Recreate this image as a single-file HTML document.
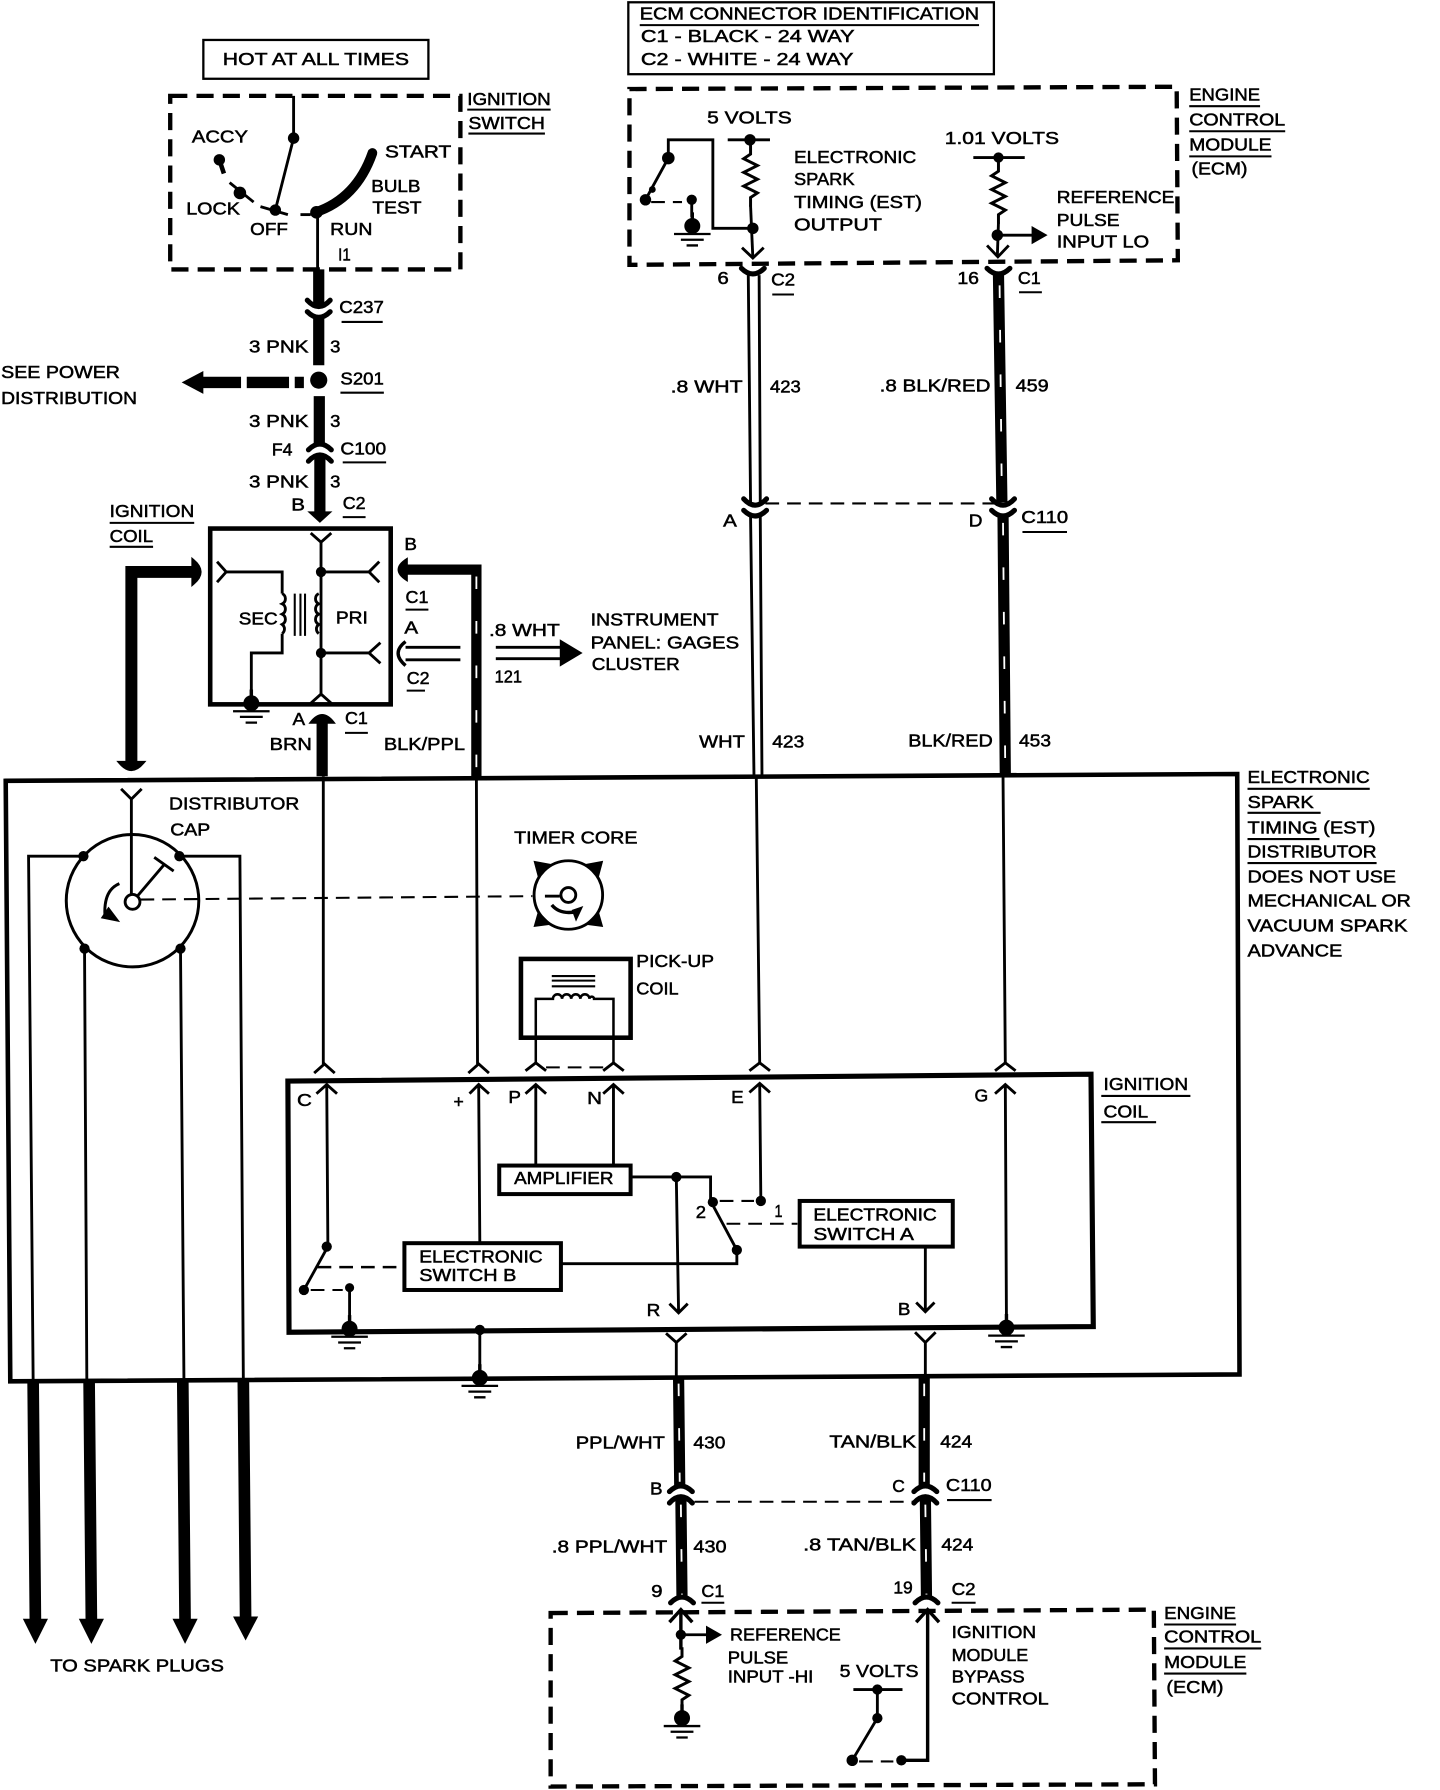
<!DOCTYPE html>
<html><head><meta charset="utf-8"><title>Electronic Spark Timing Wiring Diagram</title>
<style>
html,body{margin:0;padding:0;background:#fff}
svg{display:block;position:absolute;left:0;top:0}
text{font-family:"Liberation Sans",sans-serif;font-size:15.5px;fill:#000;stroke:#000;stroke-width:.45px}
.l{fill:none;stroke:#000;stroke-width:2.5}
.t{fill:none;stroke:#000;stroke-width:1.8}
.b{fill:none;stroke:#000;stroke-width:4}
.d{fill:none;stroke:#000;stroke-width:3.8;stroke-dasharray:15 8}
.h{fill:none;stroke:#000;stroke-width:1.8;stroke-dasharray:12 7}
.w{fill:none;stroke:#000;stroke-width:9.8}
.s{fill:none;stroke:#fff;stroke-width:1.6;stroke-dasharray:11 28}
.c{fill:none;stroke:#000;stroke-width:2.5}
</style></head><body>
<svg width="1440" height="1790" viewBox="0 0 1260.5 1568" preserveAspectRatio="none" xmlns="http://www.w3.org/2000/svg">
<defs>
<g id="g"><circle cx="0" cy="0" r="7"/><path d="M0,-12V0" stroke="#000" stroke-width="3"/><path d="M-16,7H16M-10,12H10M-5,17H5" stroke="#000" stroke-width="2" fill="none"/></g>
<path id="r" d="M0,0 L0,8 L-6,12 L6,18 L-6,24 L6,30 L-6,36 L6,42 L0,46 L0,54" fill="none" stroke="#000" stroke-width="2.6"/>
<path id="capd" d="M-10,-6 Q0,5 10,-6 M-10,4 Q0,14 10,4" fill="none" stroke="#000" stroke-width="4.5" stroke-linecap="round"/>
<path id="capu" d="M-10,-4 Q0,-14 10,-4 M-10,6 Q0,-5 10,6" fill="none" stroke="#000" stroke-width="4.5" stroke-linecap="round"/>
<path id="y" d="M-10,-4 Q0,6 10,-4" fill="none" stroke="#000" stroke-width="4.5" stroke-linecap="round"/>
<path id="f" d="M-10,4 Q0,-6 10,4" fill="none" stroke="#000" stroke-width="4.5" stroke-linecap="round"/>
</defs>

<!-- Top labels -->
<rect x="178" y="35" width="197" height="34" fill="none" stroke="#000" stroke-width="2"/>
<text x="195" y="57" textLength="163" lengthAdjust="spacingAndGlyphs">HOT AT ALL TIMES</text>
<rect x="550" y="2" width="320" height="63" fill="none" stroke="#000" stroke-width="2"/>
<path d="M560,22H857" class="t"/>
<text x="560" y="17" textLength="297" lengthAdjust="spacingAndGlyphs">ECM CONNECTOR IDENTIFICATION</text>
<text x="561" y="37" textLength="187" lengthAdjust="spacingAndGlyphs">C1 - BLACK - 24 WAY</text>
<text x="561" y="57" textLength="186" lengthAdjust="spacingAndGlyphs">C2 - WHITE - 24 WAY</text>

<!-- Ignition switch -->
<rect x="149" y="84" width="254" height="152" class="d"/>
<text x="409" y="92" textLength="73" lengthAdjust="spacingAndGlyphs">IGNITION</text><path d="M409,96H482M410,117H477" class="t"/>
<text x="410" y="113" textLength="67" lengthAdjust="spacingAndGlyphs">SWITCH</text>
<path d="M257,84V121L241,184" class="l"/><circle cx="257" cy="121" r="5"/><circle cx="241" cy="184" r="5"/>
<path d="M228,181L252,188" class="l"/>
<circle cx="192" cy="140" r="5"/><path d="M192,140L196,152" class="b"/><path d="M201,160L222,177" class="l"/><circle cx="210" cy="169" r="5.5"/>
<text x="168" y="125" textLength="49" lengthAdjust="spacingAndGlyphs">ACCY</text>
<text x="163" y="188" textLength="47" lengthAdjust="spacingAndGlyphs">LOCK</text>
<text x="219" y="206" textLength="33" lengthAdjust="spacingAndGlyphs">OFF</text>
<text x="289" y="206" textLength="37" lengthAdjust="spacingAndGlyphs">RUN</text>
<text x="337" y="138" textLength="58" lengthAdjust="spacingAndGlyphs">START</text>
<text x="325" y="168" textLength="43" lengthAdjust="spacingAndGlyphs">BULB</text>
<text x="326" y="187" textLength="43" lengthAdjust="spacingAndGlyphs">TEST</text>
<text x="296" y="228" textLength="11" lengthAdjust="spacingAndGlyphs">I1</text>
<path d="M276,186Q312,174 326,134" fill="none" stroke="#000" stroke-width="8.5" stroke-linecap="round"/>
<circle cx="277" cy="186" r="5.5"/>
<path d="M263,188H272" class="l"/><path d="M278,186V236" class="l"/>

<!-- Main power wire -->
<path d="M279,236V267" class="w"/>
<use href="#capd" x="279" y="269"/>
<path d="M279,277V320" class="w"/>
<circle cx="279" cy="333" r="7.5"/>
<path d="M279.5,347V390" class="w"/>
<use href="#capu" x="280" y="398"/>
<path d="M280,398V452" class="w"/>
<path d="M269,448L280,458L291,448Z"/>
<text x="297" y="274" textLength="39" lengthAdjust="spacingAndGlyphs">C237</text><path d="M299,282H335M298,344H336M300,405H338M300,453H320" class="t"/>
<text x="218" y="309" textLength="52" lengthAdjust="spacingAndGlyphs">3 PNK</text><text x="289" y="309" textLength="9" lengthAdjust="spacingAndGlyphs">3</text>
<text x="298" y="337" textLength="38" lengthAdjust="spacingAndGlyphs">S201</text>
<text x="218" y="374" textLength="52" lengthAdjust="spacingAndGlyphs">3 PNK</text><text x="289" y="374" textLength="9" lengthAdjust="spacingAndGlyphs">3</text>
<text x="238" y="399" textLength="18" lengthAdjust="spacingAndGlyphs">F4</text>
<text x="298" y="398" textLength="40" lengthAdjust="spacingAndGlyphs">C100</text>
<text x="218" y="427" textLength="52" lengthAdjust="spacingAndGlyphs">3 PNK</text><text x="289" y="427" textLength="9" lengthAdjust="spacingAndGlyphs">3</text>
<text x="255" y="447" textLength="12" lengthAdjust="spacingAndGlyphs">B</text>
<text x="300" y="446" textLength="20" lengthAdjust="spacingAndGlyphs">C2</text>

<text x="1" y="331" textLength="104" lengthAdjust="spacingAndGlyphs">SEE POWER</text>
<text x="1" y="354" textLength="119" lengthAdjust="spacingAndGlyphs">DISTRIBUTION</text>
<path d="M159,335L178,325V345Z"/><path d="M176,335H211M216,335H253M258,335H266" class="w" style="stroke-width:10"/>

<!-- Ignition coil -->
<text x="96" y="453" textLength="74" lengthAdjust="spacingAndGlyphs">IGNITION</text><path d="M96,458H170M96,479H134" class="t"/>
<text x="96" y="475" textLength="38" lengthAdjust="spacingAndGlyphs">COIL</text>
<rect x="184" y="463" width="158" height="154" class="b"/>
<path d="M272,467L281,475L290,467M281,475V610M271,617L281,608L291,617" class="l"/>
<circle cx="281" cy="501" r="4.5"/><circle cx="281" cy="572" r="4.5"/>
<path d="M281,501H325M332,492L323,501L332,510M281,572H325M333,563L323,572L333,581" class="l"/>
<path d="M190,492L198,501L190,510M198,501H247V520M247,555V572H220V615" class="l"/>
<path d="M247,520a5,5 0 0 1 0,9a5,5 0 0 1 0,9a5,5 0 0 1 0,9a5,5 0 0 1 0,8" class="l"/>
<path d="M279,520a5,5 0 0 0 0,9a5,5 0 0 0 0,9a5,5 0 0 0 0,9a5,5 0 0 0 0,8" class="l"/>
<path d="M258,520V557M263,520V557M267,520V557" class="t"/>
<use href="#g" x="220" y="616"/>
<text x="209" y="547" textLength="34" lengthAdjust="spacingAndGlyphs">SEC</text>
<text x="294" y="546" textLength="28" lengthAdjust="spacingAndGlyphs">PRI</text>

<path d="M115,672V501H170" fill="none" stroke="#000" stroke-width="10.5"/>
<path d="M169,491Q181,501 169,511ZM105,668Q115,680 125,668Z" stroke="#000" stroke-width="3"/>
<path d="M417,680V499H355" fill="none" stroke="#000" stroke-width="9"/>
<path d="M356,490Q342,499 356,508Z" stroke="#000" stroke-width="2"/>
<path d="M417,505V680" class="s"/>
<text x="354" y="482" textLength="11" lengthAdjust="spacingAndGlyphs">B</text>
<text x="355" y="528" textLength="20" lengthAdjust="spacingAndGlyphs">C1</text><path d="M355,534H375M356,605H372M302,642H322" class="t"/>
<text x="354" y="555" textLength="12" lengthAdjust="spacingAndGlyphs">A</text>
<text x="356" y="599" textLength="20" lengthAdjust="spacingAndGlyphs">C2</text>
<path d="M403,567H355M403,578H355" class="l"/><path d="M355,562Q342,572 355,583" fill="none" stroke="#000" stroke-width="3"/>
<text x="428" y="557" textLength="62" lengthAdjust="spacingAndGlyphs">.8 WHT</text>
<text x="433" y="598" textLength="24" lengthAdjust="spacingAndGlyphs">121</text>
<path d="M434,567H492M434,577H492" class="l"/><path d="M490,560L510,572L490,584Z"/>
<text x="517" y="548" textLength="112" lengthAdjust="spacingAndGlyphs">INSTRUMENT</text>
<text x="517" y="568" textLength="130" lengthAdjust="spacingAndGlyphs">PANEL: GAGES</text>
<text x="518" y="587" textLength="77" lengthAdjust="spacingAndGlyphs">CLUSTER</text>

<path d="M282,632V680" class="w"/><path d="M272,633Q282,620 292,633Z" stroke="#000" stroke-width="2"/>
<text x="256" y="635" textLength="11" lengthAdjust="spacingAndGlyphs">A</text>
<text x="302" y="634" textLength="20" lengthAdjust="spacingAndGlyphs">C1</text>
<text x="236" y="657" textLength="37" lengthAdjust="spacingAndGlyphs">BRN</text>
<text x="336" y="657" textLength="71" lengthAdjust="spacingAndGlyphs">BLK/PPL</text>

<!-- ECM top -->
<path d="M551,78L1030,76L1031,228L551,232Z" class="d"/>
<text x="1041" y="88" textLength="62" lengthAdjust="spacingAndGlyphs">ENGINE</text>
<text x="1041" y="110" textLength="84" lengthAdjust="spacingAndGlyphs">CONTROL</text>
<text x="1041" y="132" textLength="72" lengthAdjust="spacingAndGlyphs">MODULE</text>
<text x="1043" y="153" textLength="49" lengthAdjust="spacingAndGlyphs">(ECM)</text>
<path d="M1041,93H1103M1041,115H1125M1041,137H1113" class="t"/>
<text x="619" y="108" textLength="74" lengthAdjust="spacingAndGlyphs">5 VOLTS</text>
<path d="M637,122.5H674" class="l"/><circle cx="656.5" cy="122.5" r="5"/>
<use href="#r" x="657" y="127"/><path d="M657,180L659,226" class="l"/><circle cx="659" cy="200" r="5"/>
<path d="M659,200H624V122.5H585V138.5L565,175" class="l"/><circle cx="585" cy="138.5" r="5.5"/><circle cx="565" cy="175" r="5"/><circle cx="571" cy="166" r="3"/>
<path d="M570,177H597" class="h"/><circle cx="605.5" cy="175" r="4.5"/><use href="#g" x="606" y="198"/><path d="M605.5,175V190" class="l"/>
<path d="M649.5,217L659,226L668.5,217" class="l"/>
<use href="#y" x="659" y="239"/>
<text x="695" y="143" textLength="107" lengthAdjust="spacingAndGlyphs">ELECTRONIC</text>
<text x="695" y="162" textLength="53" lengthAdjust="spacingAndGlyphs">SPARK</text>
<text x="695" y="182" textLength="112" lengthAdjust="spacingAndGlyphs">TIMING (EST)</text>
<text x="695" y="202" textLength="77" lengthAdjust="spacingAndGlyphs">OUTPUT</text>
<text x="827" y="126" textLength="100" lengthAdjust="spacingAndGlyphs">1.01 VOLTS</text>
<path d="M852,138H897" class="l"/><circle cx="874" cy="138" r="4.5"/>
<use href="#r" x="874" y="142"/><path d="M874,195L873,225" class="l"/><circle cx="873" cy="206" r="5"/>
<path d="M873,206H904" class="l"/><path d="M903,198L917,206L903,214Z"/>
<path d="M864,215L873.5,225L883,215" class="l"/>
<text x="925" y="178" textLength="103" lengthAdjust="spacingAndGlyphs">REFERENCE</text>
<text x="925" y="198" textLength="55" lengthAdjust="spacingAndGlyphs">PULSE</text>
<text x="925" y="217" textLength="81" lengthAdjust="spacingAndGlyphs">INPUT LO</text>

<text x="628" y="249" textLength="10" lengthAdjust="spacingAndGlyphs">6</text>
<text x="675" y="250" textLength="21" lengthAdjust="spacingAndGlyphs">C2</text>
<text x="838" y="249" textLength="19" lengthAdjust="spacingAndGlyphs">16</text>
<text x="891" y="249" textLength="20" lengthAdjust="spacingAndGlyphs">C1</text>
<path d="M676,258H695M892,256H912M895,466H934" class="t"/>
<!-- white wire -->
<path d="M655,241L657,440M657,452L660,680M664.5,241L665.5,440M665.5,452L667,680" class="l"/>
<use href="#capd" x="661" y="443"/>
<path d="M670,441H873" class="h" style="stroke-width:1.8"/>
<text x="587" y="344" textLength="63" lengthAdjust="spacingAndGlyphs">.8 WHT</text>
<text x="674" y="344" textLength="27" lengthAdjust="spacingAndGlyphs">423</text>
<text x="633" y="461" textLength="12" lengthAdjust="spacingAndGlyphs">A</text>
<text x="612" y="655" textLength="40" lengthAdjust="spacingAndGlyphs">WHT</text>
<text x="676" y="655" textLength="28" lengthAdjust="spacingAndGlyphs">423</text>
<!-- black/red wire -->
<path d="M874,240L877,440M878,451L880,680" class="w"/>
<path d="M875,250L877,440M878,458L880,680" class="s"/>
<use href="#y" x="874" y="239"/>
<use href="#capd" x="878" y="443"/>
<text x="770" y="343" textLength="97" lengthAdjust="spacingAndGlyphs">.8 BLK/RED</text>
<text x="889" y="343" textLength="29" lengthAdjust="spacingAndGlyphs">459</text>
<text x="848" y="461" textLength="12" lengthAdjust="spacingAndGlyphs">D</text>
<text x="894" y="458" textLength="41" lengthAdjust="spacingAndGlyphs">C110</text>
<text x="795" y="654" textLength="74" lengthAdjust="spacingAndGlyphs">BLK/RED</text>
<text x="892" y="654" textLength="28" lengthAdjust="spacingAndGlyphs">453</text>

<!-- Distributor box -->
<path d="M5,684L1083,678L1085,1204L9,1210Z" class="b"/>
<text x="1092" y="686" textLength="107" lengthAdjust="spacingAndGlyphs">ELECTRONIC</text>
<text x="1092" y="708" textLength="58" lengthAdjust="spacingAndGlyphs">SPARK</text>
<text x="1092" y="730" textLength="112" lengthAdjust="spacingAndGlyphs">TIMING (EST)</text>
<text x="1092" y="751" textLength="113" lengthAdjust="spacingAndGlyphs">DISTRIBUTOR</text>
<text x="1092" y="773" textLength="130" lengthAdjust="spacingAndGlyphs">DOES NOT USE</text>
<text x="1092" y="794" textLength="143" lengthAdjust="spacingAndGlyphs">MECHANICAL OR</text>
<text x="1092" y="816" textLength="140" lengthAdjust="spacingAndGlyphs">VACUUM SPARK</text>
<text x="1092" y="838" textLength="83" lengthAdjust="spacingAndGlyphs">ADVANCE</text>
<path d="M1092,691H1199M1092,712H1156M1092,735H1155M1092,756H1205" class="t"/>

<text x="148" y="709" textLength="114" lengthAdjust="spacingAndGlyphs">DISTRIBUTOR</text>
<text x="149" y="732" textLength="35" lengthAdjust="spacingAndGlyphs">CAP</text>
<path d="M106,691L115,700L124,691M115,700V790" class="l"/>
<circle cx="116" cy="789" r="58" fill="none" stroke="#000" stroke-width="2.6"/>
<path d="M116,790L144,757M135,751L152,763" class="l"/>
<path d="M104.5,774Q90,780 92,804" fill="none" stroke="#000" stroke-width="2.6"/><path d="M89,804L104,807L95,795Z" stroke="#000"/>
<circle cx="73" cy="750" r="4.5"/><circle cx="157" cy="750" r="4.5"/><circle cx="74" cy="831" r="4.5"/><circle cx="158" cy="831" r="4.5"/>
<path d="M73,750H25L29,1208M157,750H210L213,1208M74,831L76,1208M158,831L161,1208" class="l"/>
<path d="M123,788L466,785" class="h"/>
<circle cx="116" cy="790" r="6.5" fill="#fff" stroke="#000" stroke-width="2.5"/>

<!-- Timer core -->
<text x="450" y="739" textLength="108" lengthAdjust="spacingAndGlyphs">TIMER CORE</text>
<circle cx="497.5" cy="784" r="30" fill="none" stroke="#000" stroke-width="2.5"/>
<path d="M467,754L483,757L471,769ZM528,754L512,757L524,769ZM467,812L483,810L471,798ZM528,812L512,810L524,798Z"/>
<circle cx="497.5" cy="784" r="6.5" fill="none" stroke="#000" stroke-width="2.5"/>
<path d="M477,785H490" class="l"/>
<path d="M483,792.7Q490.2,801.5 504.8,798.6" fill="none" stroke="#000" stroke-width="3"/><path d="M510.6,793.6L504.2,807.3L500.4,797.1Z"/>

<!-- Pick-up coil -->
<rect x="456" y="840" width="96" height="69" class="b"/>
<text x="557" y="847" textLength="68" lengthAdjust="spacingAndGlyphs">PICK-UP</text>
<text x="557" y="871" textLength="37" lengthAdjust="spacingAndGlyphs">COIL</text>
<path d="M483,855H521M483,859H521M483,864H521" class="t"/>
<path d="M469,932V875H484a4,4 0 0 1 8,0a4,4 0 0 1 8,0a4,4 0 0 1 8,0a4,4 0 0 1 8,0a2,2 0 0 1 4,0H537V932" class="t" style="stroke-width:2.2"/>
<path d="M460,938L469,931L478,938M528,938L537,931L546,938" class="l"/><path d="M478,935H528" class="h"/>

<!-- Ignition coil module -->
<path d="M252,947L955,941L957,1162L253,1167Z" class="b" style="stroke-width:4.5"/>
<text x="966" y="955" textLength="74" lengthAdjust="spacingAndGlyphs">IGNITION</text>
<text x="966" y="979" textLength="39" lengthAdjust="spacingAndGlyphs">COIL</text>
<path d="M964,960H1042M964,983H1012" class="t"/>
<path d="M283,680V932M417,680L418,932M662,680L665,932M878,680L880,932" class="l"/>
<path d="M275,940L284,932L293,940M410,940L419,932L428,940M656,938L665,931L674,938M871,938L880,931L889,938" class="l"/>
<path d="M277,958L286,950L295,958M286,950L287,1090M411,958L419,950L428,958M419,950L420,1088M460,958L469,950L478,958M469,950V1021M528,958L537,950L546,958M537,950V1021M656,957L665,949L674,957M665,949L666,1052M871,958L880,950L889,958M880,950L881,1160" class="l"/>
<text x="260" y="969" textLength="13" lengthAdjust="spacingAndGlyphs">C</text>
<text x="397" y="970" textLength="9" lengthAdjust="spacingAndGlyphs">+</text>
<text x="445" y="966" textLength="11" lengthAdjust="spacingAndGlyphs">P</text>
<text x="514" y="967" textLength="13" lengthAdjust="spacingAndGlyphs">N</text>
<text x="640" y="966" textLength="11" lengthAdjust="spacingAndGlyphs">E</text>
<text x="853" y="965" textLength="12" lengthAdjust="spacingAndGlyphs">G</text>
<rect x="437" y="1021" width="115" height="25" fill="#fff" stroke="#000" stroke-width="3.5"/>
<text x="450" y="1037" textLength="87" lengthAdjust="spacingAndGlyphs">AMPLIFIER</text>
<path d="M552,1031H622V1052L645,1095V1107H491M592,1031L594,1150M586,1142L594,1150L602,1142" class="l"/>
<circle cx="592" cy="1031" r="4.5"/><circle cx="624" cy="1053" r="4.5"/><circle cx="645" cy="1095" r="4.5"/><circle cx="666" cy="1052" r="4.5"/>
<path d="M630,1052H660" class="h"/><path d="M636,1072H698" class="h"/>
<text x="609" y="1067" textLength="9" lengthAdjust="spacingAndGlyphs">2</text>
<text x="678" y="1066" textLength="7" lengthAdjust="spacingAndGlyphs">1</text>
<rect x="700" y="1052" width="134" height="40" fill="#fff" stroke="#000" stroke-width="3.5"/>
<text x="712" y="1069" textLength="108" lengthAdjust="spacingAndGlyphs">ELECTRONIC</text>
<text x="712" y="1086" textLength="88" lengthAdjust="spacingAndGlyphs">SWITCH A</text>
<path d="M810,1092V1148M802,1141L810,1149L818,1141" class="l"/>
<text x="786" y="1152" textLength="11" lengthAdjust="spacingAndGlyphs">B</text>
<text x="566" y="1153" textLength="12" lengthAdjust="spacingAndGlyphs">R</text>
<rect x="354" y="1089" width="137" height="41" fill="#fff" stroke="#000" stroke-width="3.5"/>
<text x="367" y="1106" textLength="108" lengthAdjust="spacingAndGlyphs">ELECTRONIC</text>
<text x="367" y="1122" textLength="85" lengthAdjust="spacingAndGlyphs">SWITCH B</text>
<path d="M287,1092L266,1130" class="l"/><circle cx="286" cy="1092" r="4.5"/><circle cx="266" cy="1130" r="4.5"/>
<path d="M272,1130H300" class="h"/><circle cx="306" cy="1128" r="4"/><path d="M306,1128V1160" class="l"/>
<path d="M278,1110H352" class="h" style="stroke-width:2.2"/>
<use href="#g" x="306" y="1164"/>
<use href="#g" x="881" y="1163"/>
<circle cx="420" cy="1165" r="4.5"/><path d="M420,1165V1200" class="l"/><use href="#g" x="420" y="1207"/>

<!-- Lower wires -->
<path d="M583,1168L592,1176L601,1168M592,1176V1207M801,1167L810,1176L819,1167M810,1176V1207" class="l"/>
<path d="M594,1207L595,1302M596,1311L597,1400M809,1207V1302M810,1311L811,1400" class="w"/>
<path d="M594,1212L595,1298M596,1318L597,1400M809,1212V1298M810,1318L811,1400" class="s"/>
<use href="#capu" x="596" y="1310.6"/><use href="#capu" x="810" y="1310.6"/>
<use href="#f" x="597" y="1400"/><use href="#f" x="811" y="1400"/>
<path d="M608,1315.5H800" class="h"/>
<text x="504" y="1269" textLength="78" lengthAdjust="spacingAndGlyphs">PPL/WHT</text>
<text x="607" y="1269" textLength="28" lengthAdjust="spacingAndGlyphs">430</text>
<text x="726" y="1268" textLength="76" lengthAdjust="spacingAndGlyphs">TAN/BLK</text>
<text x="823" y="1268" textLength="28" lengthAdjust="spacingAndGlyphs">424</text>
<text x="569" y="1309" textLength="11" lengthAdjust="spacingAndGlyphs">B</text>
<text x="781" y="1307" textLength="11" lengthAdjust="spacingAndGlyphs">C</text>
<text x="828" y="1306" textLength="40" lengthAdjust="spacingAndGlyphs">C110</text>
<text x="483" y="1360" textLength="101" lengthAdjust="spacingAndGlyphs">.8 PPL/WHT</text>
<text x="607" y="1360" textLength="29" lengthAdjust="spacingAndGlyphs">430</text>
<text x="703" y="1358" textLength="99" lengthAdjust="spacingAndGlyphs">.8 TAN/BLK</text>
<text x="824" y="1358" textLength="28" lengthAdjust="spacingAndGlyphs">424</text>
<text x="570" y="1399" textLength="10" lengthAdjust="spacingAndGlyphs">9</text>
<text x="614" y="1399" textLength="20" lengthAdjust="spacingAndGlyphs">C1</text>
<text x="782" y="1396" textLength="17" lengthAdjust="spacingAndGlyphs">19</text>
<text x="833" y="1397" textLength="21" lengthAdjust="spacingAndGlyphs">C2</text>
<path d="M829,1314H868M614,1404H634M833,1404H854" class="t"/>

<!-- Spark plug wires -->
<path d="M29,1210L31,1422M78,1210L80,1422M160,1210L162,1422M213,1210L215,1420" class="w" style="stroke-width:10.2"/>
<path d="M20,1418H42L31,1440ZM69,1418H91L80,1440ZM151,1418H173L162,1440ZM204,1416H226L215,1437Z"/>
<text x="44" y="1464" textLength="152" lengthAdjust="spacingAndGlyphs">TO SPARK PLUGS</text>

<!-- ECM bottom -->
<path d="M482,1413L1010,1410L1011,1563L482,1565Z" class="d"/>
<text x="1019" y="1418" textLength="63" lengthAdjust="spacingAndGlyphs">ENGINE</text>
<text x="1019" y="1439" textLength="85" lengthAdjust="spacingAndGlyphs">CONTROL</text>
<text x="1019" y="1461" textLength="72" lengthAdjust="spacingAndGlyphs">MODULE</text>
<text x="1021" y="1483" textLength="50" lengthAdjust="spacingAndGlyphs">(ECM)</text>
<path d="M1019,1423H1082M1019,1444H1104M1019,1466H1091" class="t"/>
<path d="M586,1421L596,1410L606,1421M596,1410V1445" class="l" style="stroke-width:3"/><circle cx="596" cy="1432" r="4.5"/>
<path d="M596,1432H620" class="l"/><path d="M618,1424L632,1432L618,1440Z"/>
<use href="#r" x="597" y="1443"/><use href="#g" x="597" y="1505"/>
<text x="639" y="1437" textLength="97" lengthAdjust="spacingAndGlyphs">REFERENCE</text>
<text x="637" y="1457" textLength="53" lengthAdjust="spacingAndGlyphs">PULSE</text>
<text x="637" y="1474" textLength="75" lengthAdjust="spacingAndGlyphs">INPUT -HI</text>
<text x="735" y="1469" textLength="69" lengthAdjust="spacingAndGlyphs">5 VOLTS</text>
<path d="M747,1480H790M768,1480V1505L746,1542" class="l"/>
<circle cx="768" cy="1480" r="4.5"/><circle cx="768" cy="1505" r="4.5"/><circle cx="746" cy="1542" r="5"/><circle cx="789" cy="1542" r="4.5"/>
<path d="M752,1543H782" class="h"/>
<path d="M790,1542H812V1410M802,1421L812,1410L822,1421" class="l" style="stroke-width:3"/>
<text x="833" y="1435" textLength="74" lengthAdjust="spacingAndGlyphs">IGNITION</text>
<text x="833" y="1455" textLength="67" lengthAdjust="spacingAndGlyphs">MODULE</text>
<text x="833" y="1474" textLength="64" lengthAdjust="spacingAndGlyphs">BYPASS</text>
<text x="833" y="1493" textLength="85" lengthAdjust="spacingAndGlyphs">CONTROL</text>
</svg>
</body></html>
